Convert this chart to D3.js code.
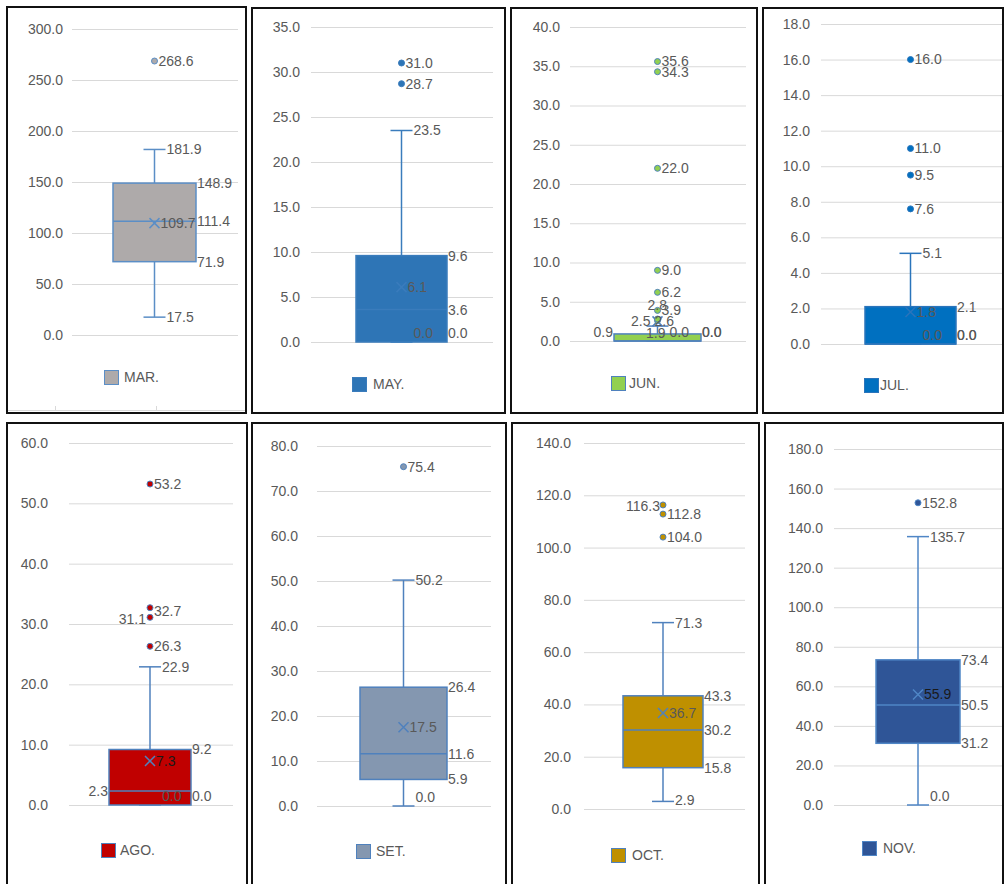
<!DOCTYPE html>
<html>
<head>
<meta charset="utf-8">
<script src="https://cdn.jsdelivr.net/npm/d3@7"></script>
<style>
  body { margin: 0; background: #fff; }
  svg { display: block; }
  text { font-family: "Liberation Sans", Arial, sans-serif; }
</style>
</head>
<body>
<svg id="chart" width="1005" height="884"></svg>
<script>
// Monthly box-and-whisker summaries
const months      = ["MAR.", "MAY.", "JUN.", "JUL.", "AGO.", "SET.", "OCT.", "NOV."];
const whiskerLow  = [17.5, 0.0, 0.0, 0.0, 0.0, 0.0, 2.9, 0.0];
const q1          = [71.9, 0.0, 0.0, 0.0, 0.0, 5.9, 15.8, 31.2];
const median      = [111.4, 3.6, 0.0, 0.0, 2.3, 11.6, 30.2, 50.5];
const q3          = [148.9, 9.6, 0.9, 2.1, 9.2, 26.4, 43.3, 73.4];
const whiskerHigh = [181.9, 23.5, 1.9, 5.1, 22.9, 50.2, 71.3, 135.7];
const mean        = [109.7, 6.1, 2.5, 1.8, 7.3, 17.5, 36.7, 55.9];
const outliers = [
  [268.6],
  [28.7, 31.0],
  [2.6, 2.8, 3.9, 6.2, 9.0, 22.0, 34.3, 35.6],
  [7.6, 9.5, 11.0, 16.0],
  [26.3, 31.1, 32.7, 53.2],
  [75.4],
  [104.0, 112.8, 116.3],
  [152.8]
];
// Y axis: upper limit and tick step of each panel
const axisMax  = [300, 35, 40, 18, 60, 80, 140, 180];
const tickStep = [50, 5, 5, 2, 10, 10, 20, 20];

// Colours per panel
const fills   = ["#aeaaaa", "#2e75b6", "#92d050", "#0070c0", "#c00000", "#8497b0", "#bf9000", "#2f5597"];
const strokes = ["#5b8ec6", "#3a7cbc", "#4f81bd", "#2a74bb", "#4f81bd", "#4f81bd", "#4f81bd", "#4f86c6"];

// Panel geometry
const layout = [
  { border: [7, 7, 246, 413],   grid: [72, 238],  yTop: 29,  yBot: 335, tickRight: 63,  box: [113, 196], legend: [104, 370], legendText: 124 },
  { border: [252, 8, 505, 413], grid: [311, 493], yTop: 27,  yBot: 342, tickRight: 300, box: [356, 447], legend: [352, 377], legendText: 373 },
  { border: [511, 8, 757, 413], grid: [570, 746], yTop: 27,  yBot: 341, tickRight: 560, box: [614, 701], legend: [611, 376], legendText: 629 },
  { border: [763, 8, 1003, 413],grid: [821, 1002],yTop: 24,  yBot: 344, tickRight: 810, box: [865, 956], legend: [864, 378], legendText: 880 },
  { border: [7, 423, 247, 900], grid: [69, 233],  yTop: 443, yBot: 805, tickRight: 48,  box: [109, 191], legend: [101, 843], legendText: 120 },
  { border: [252, 423, 506, 900],grid: [317, 491],yTop: 446, yBot: 806, tickRight: 298, box: [360, 447], legend: [356, 844], legendText: 376 },
  { border: [512, 423, 759, 900],grid: [584, 745],yTop: 443, yBot: 809, tickRight: 571, box: [623, 703], legend: [611, 848], legendText: 632 },
  { border: [765, 423, 1003, 900],grid: [834, 1002],yTop: 449,yBot: 805, tickRight: 823, box: [876, 960], legend: [862, 841], legendText: 883 }
];

// Label placement adjustments where labels would collide
const tweaks = {
  "JUN.": {
    q3: { left: true },
    whiskerHigh: { x: 8, anchor: "end", dy: 7 },
    mean: { x: -7, anchor: "end" },
    "out2.6": { x: -3, dy: 1 },
    "out2.8": { x: -10, dy: -14 }
  },
  "AGO.": {
    median: { left: true },
    mean: { color: "#1a1a1a" },
    "out31.1": { x: -4, anchor: "end", dy: 2 },
    "out32.7": { dy: 3 }
  },
  "OCT.": {
    "out116.3": { x: -3, anchor: "end", dy: 1 }
  },
  "NOV.": {
    mean: { color: "#1a1a1a" }
  }
};

const fmt = d3.format(".1f");
const svg = d3.select("#chart");
const labelColor = "#595959";

months.forEach((m, i) => {
  const L = layout[i];
  const g = svg.append("g");
  const y = d3.scaleLinear().domain([0, axisMax[i]]).range([L.yBot, L.yTop]);
  const cx = (L.box[0] + L.box[1]) / 2;
  const fill = fills[i], stroke = strokes[i];
  const tw = tweaks[m] || {};

  // gridlines + tick labels
  const ticks = d3.range(0, axisMax[i] + tickStep[i] / 2, tickStep[i]);
  const ax = g.append("g")
    .attr("transform", `translate(${L.grid[0]},0)`)
    .call(d3.axisLeft(y).tickValues(ticks).tickFormat(fmt).tickSize(-(L.grid[1] - L.grid[0])));
  ax.select(".domain").remove();
  ax.selectAll(".tick line").attr("stroke", "#d9d9d9").attr("stroke-width", 1);
  ax.selectAll(".tick text")
    .attr("x", L.tickRight - L.grid[0])
    .attr("fill", labelColor)
    .style("font-size", "14px");

  // whiskers
  const wl = [[y(q3[i]), y(whiskerHigh[i])], [y(q1[i]), y(whiskerLow[i])]];
  wl.forEach(([a, b]) => {
    g.append("line").attr("x1", cx).attr("x2", cx).attr("y1", a).attr("y2", b)
      .attr("stroke", stroke).attr("stroke-width", 1.5);
  });
  [whiskerHigh[i], whiskerLow[i]].forEach(v => {
    g.append("line").attr("x1", cx - 11).attr("x2", cx + 11).attr("y1", y(v)).attr("y2", y(v))
      .attr("stroke", stroke).attr("stroke-width", 1.5);
  });

  // box
  g.append("rect")
    .attr("x", L.box[0]).attr("y", y(q3[i]))
    .attr("width", L.box[1] - L.box[0])
    .attr("height", Math.max(0, y(q1[i]) - y(q3[i])))
    .attr("fill", fill).attr("stroke", stroke).attr("stroke-width", 1.5);
  g.append("line").attr("x1", L.box[0]).attr("x2", L.box[1])
    .attr("y1", y(median[i])).attr("y2", y(median[i]))
    .attr("stroke", stroke).attr("stroke-width", 1.5);

  // mean marker
  const my = y(mean[i]);
  g.append("path")
    .attr("d", `M${cx - 5},${my - 5}L${cx + 5},${my + 5}M${cx - 5},${my + 5}L${cx + 5},${my - 5}`)
    .attr("stroke", stroke).attr("stroke-width", 1.5).attr("fill", "none");

  // outliers
  g.selectAll("circle.out").data(outliers[i]).join("circle")
    .attr("class", "out")
    .attr("cx", cx).attr("cy", d => y(d)).attr("r", 3)
    .attr("fill", fill).attr("stroke", stroke).attr("stroke-width", 1);

  // value labels
  const clampY = v => Math.min(y(v), L.yBot - 8.5);
  function label(key, v, baseX, leftX, pointLeft) {
    const t = tw[key] || {};
    let x = baseX, anchor = "start";
    if (t.left) { x = leftX; anchor = "end"; }
    if (t.x !== undefined) { x = cx + t.x; }
    if (t.anchor) anchor = t.anchor;
    g.append("text")
      .attr("x", x).attr("y", clampY(v) + (t.dy || 0))
      .attr("dy", "0.35em")
      .attr("text-anchor", anchor)
      .attr("fill", t.color || labelColor)
      .style("font-size", "14px")
      .text(fmt(v));
  }
  label("whiskerHigh", whiskerHigh[i], cx + 12, cx - 12);
  label("whiskerLow", whiskerLow[i], cx + 12, cx - 12);
  label("q3", q3[i], L.box[1] + 1, L.box[0] - 1);
  label("q1", q1[i], L.box[1] + 1, L.box[0] - 1);
  label("median", median[i], L.box[1] + 1, L.box[0] - 1);
  label("mean", mean[i], cx + 6, cx - 6);
  outliers[i].forEach(v => label("out" + fmt(v), v, cx + 4, cx - 4));

  // legend
  g.append("rect")
    .attr("x", L.legend[0] + 0.5).attr("y", L.legend[1] + 0.5)
    .attr("width", 14).attr("height", 14)
    .attr("fill", fill).attr("stroke", stroke).attr("stroke-width", 1);
  g.append("text")
    .attr("x", L.legendText).attr("y", L.legend[1] + 7)
    .attr("dy", "0.35em")
    .attr("fill", labelColor)
    .style("font-size", "14px")
    .text(m);

  // panel frame
  const [bx0, by0, bx1, by1] = L.border;
  svg.append("rect")
    .attr("x", bx0).attr("y", by0)
    .attr("width", bx1 - bx0).attr("height", by1 - by0)
    .attr("fill", "none").attr("stroke", "#111").attr("stroke-width", 2);
});

// faint category axis remnant along the bottom of the first panel
const remnant = svg.append("g").attr("stroke", "#d9d9d9").attr("stroke-width", 1);
remnant.append("line").attr("x1", 8).attr("x2", 245).attr("y1", 410.5).attr("y2", 410.5);
[55, 156].forEach(x => remnant.append("line").attr("x1", x + 0.5).attr("x2", x + 0.5).attr("y1", 406).attr("y2", 410));
</script>
</body>
</html>
